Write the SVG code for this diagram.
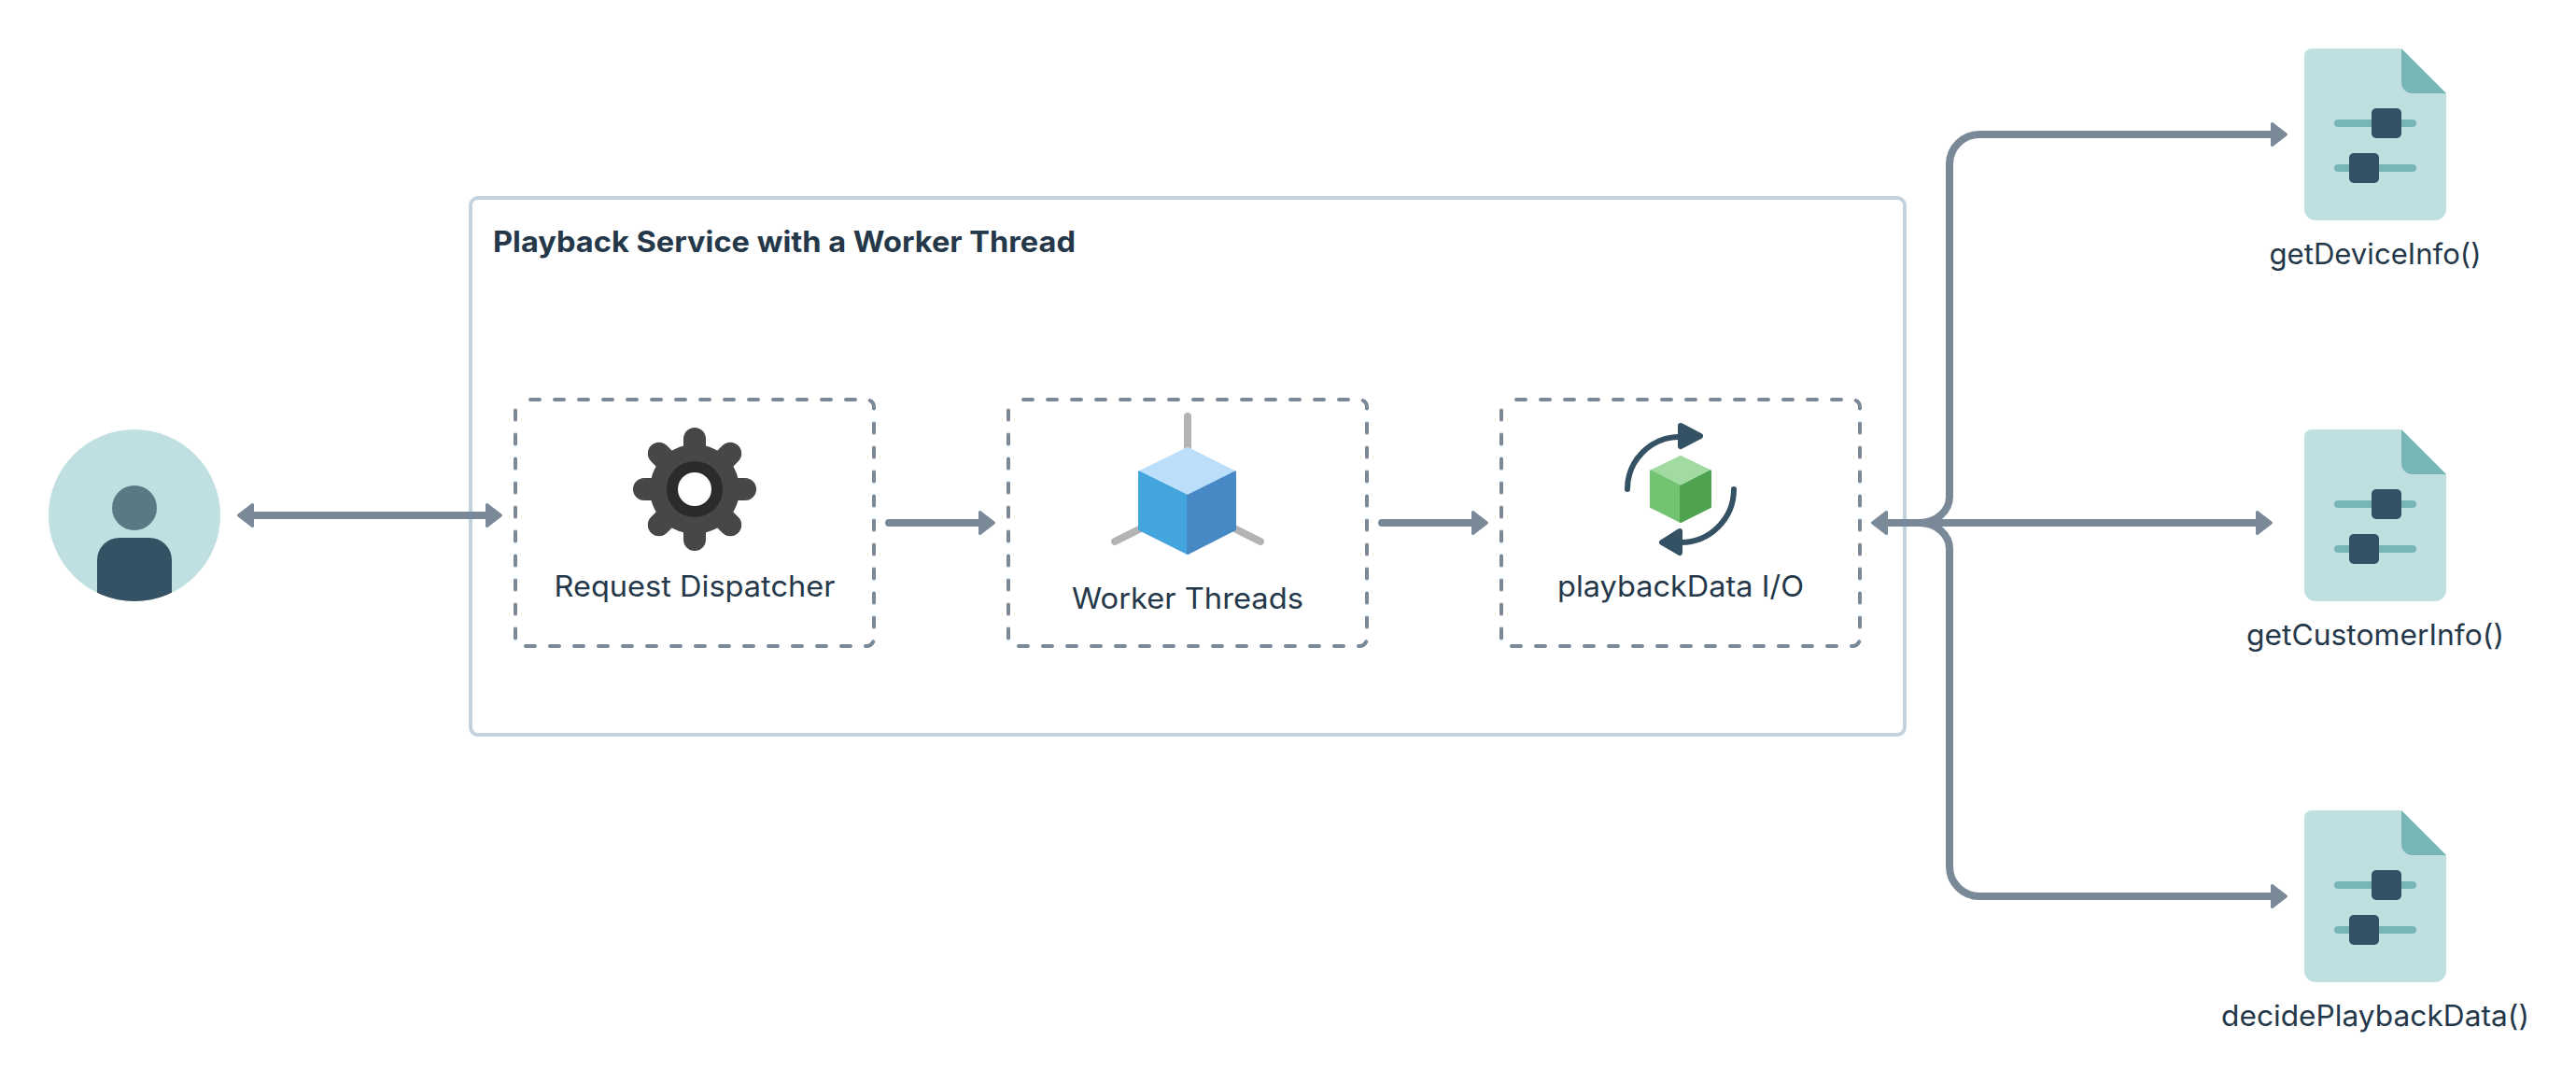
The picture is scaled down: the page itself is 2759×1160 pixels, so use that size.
<svg xmlns="http://www.w3.org/2000/svg" width="2759" height="1160" viewBox="0 0 2759 1160">
<style>
text{font-family:"Inter","Roboto","Liberation Sans",sans-serif;fill:#25384a;font-size:31px;text-anchor:middle}
.title{font-weight:700;text-anchor:start}
.dash{fill:none;stroke:#7a8998;stroke-width:4;stroke-linecap:round;stroke-dasharray:10 16}
.conn{fill:none;stroke:#7a8998;stroke-width:8;stroke-linecap:round}
.butt{stroke-linecap:butt}
.page{fill:#bfdfe1}.fold{fill:#77b5b6}.knob{fill:#345263}
</style>
<defs>
<marker id="head" markerUnits="userSpaceOnUse" orient="auto-start-reverse" markerWidth="24" markerHeight="32" viewBox="-2 -16 24 32" refX="8" refY="0" overflow="visible">
<path d="M1.5,-11.5 L16.5,0 L1.5,11.5 Z" fill="#7a8998" stroke="#7a8998" stroke-width="3" stroke-linejoin="round"/>
</marker>
<g id="doc">
<path class="page" d="M2476,52H2572L2620,100V224a12,12 0 0 1-12,12H2480a12,12 0 0 1-12-12V60a8,8 0 0 1 8-8Z"/>
<path class="fold" d="M2572,52L2620,100H2584a12,12 0 0 1-12-12Z"/>
<rect class="fold" x="2500" y="128" width="88" height="8" rx="4"/>
<rect class="fold" x="2500" y="176" width="88" height="8" rx="4"/>
<rect class="knob" x="2540" y="116" width="32" height="32" rx="5"/>
<rect class="knob" x="2516" y="164" width="32" height="32" rx="5"/>
</g>
<clipPath id="userClip"><circle cx="144" cy="552" r="92"/></clipPath>
</defs>
<rect width="2759" height="1160" fill="#fff"/>
<g id="service">
<rect x="504" y="212" width="1536" height="575" rx="8" fill="none" stroke="#c4d2de" stroke-width="4"/>
<text class="title" x="528" y="270" textLength="624" lengthAdjust="spacingAndGlyphs">Playback Service with a Worker Thread</text>
</g>
<g id="connectors">
<path class="conn butt" d="M264,552H528" marker-start="url(#head)" marker-end="url(#head)"/>
<path class="conn" d="M952,560H1056" marker-end="url(#head)"/>
<path class="conn" d="M1480,560H1584" marker-end="url(#head)"/>
<path class="conn butt" d="M2424,560H2014" marker-start="url(#head)" marker-end="url(#head)"/>
<path class="conn butt" d="M2056,560A32,28 0 0 0 2088,532V176A32,32 0 0 1 2120,144H2440" marker-end="url(#head)"/>
<path class="conn butt" d="M2056,560A32,28 0 0 1 2088,588V928A32,32 0 0 0 2120,960H2440" marker-end="url(#head)"/>
</g>
<g id="user">
<circle cx="144" cy="552" r="92" fill="#bfdfe1"/>
<circle cx="144" cy="544" r="24" fill="#5a7a83"/>
<path clip-path="url(#userClip)" d="M104,660V600a24,24 0 0 1 24-24h32a24,24 0 0 1 24,24V660Z" fill="#345263"/>
</g>
<g id="dispatcher">
<path class="dash" d="M568,428H928a8,8 0 0 1 8,8V684a8,8 0 0 1-8,8H560a8,8 0 0 1-8-8V436"/>
<g stroke="#474747" stroke-width="24" stroke-linecap="round">
<path d="M744,470V578M690,524H798M705.800,485.800L782.200,562.200M782.200,485.800L705.800,562.200"/>
</g>
<circle cx="744" cy="524" r="48" fill="#474747"/>
<circle cx="744" cy="524" r="30" fill="#2b2b2b"/>
<circle cx="744" cy="524" r="18" fill="#fff"/>
<text x="744" y="639" textLength="301" lengthAdjust="spacingAndGlyphs">Request Dispatcher</text>
</g>
<g id="workers">
<path class="dash" d="M1096,428H1456a8,8 0 0 1 8,8V684a8,8 0 0 1-8,8H1088a8,8 0 0 1-8-8V436"/>
<path d="M1272,446V480M1194,580L1222,566M1350,580L1322,566" stroke="#b3b3b3" stroke-width="8" stroke-linecap="round" fill="none"/>
<g stroke-linejoin="round" stroke-width="2">
<path d="M1272,480L1323,505.500L1272,531L1220,505.500Z" fill="#bbdefb" stroke="#bbdefb"/>
<path d="M1220,505.500L1272,531V593L1220,567Z" fill="#42a5dc" stroke="#42a5dc"/>
<path d="M1323,505.500L1272,531V593L1323,567Z" fill="#4689c4" stroke="#4689c4"/>
</g>
<text x="1272" y="652" textLength="248" lengthAdjust="spacingAndGlyphs">Worker Threads</text>
</g>
<g id="playback">
<path class="dash" d="M1624,428H1984a8,8 0 0 1 8,8V684a8,8 0 0 1-8,8H1616a8,8 0 0 1-8-8V436"/>
<g stroke-linejoin="round" stroke-width="2">
<path d="M1800,489L1832,504.500L1800,521L1768,504.500Z" fill="#a1dba1" stroke="#a1dba1"/>
<path d="M1768,504.500L1800,521V559L1768,543Z" fill="#73c373" stroke="#73c373"/>
<path d="M1832,504.500L1800,521V559L1832,543Z" fill="#4fa24f" stroke="#4fa24f"/>
</g>
<path d="M1743,524A56,56 0 0 1 1799,468M1857,524A57,57 0 0 1 1800,581" fill="none" stroke="#345263" stroke-width="6" stroke-linecap="round"/>
<path d="M1800,456L1821,467L1800,478ZM1799,569L1780,581L1799,592Z" fill="#345263" stroke="#345263" stroke-width="6" stroke-linejoin="round"/>
<text x="1800" y="639" textLength="264" lengthAdjust="spacingAndGlyphs">playbackData I/O</text>
</g>
<g id="device"><use href="#doc"/><text x="2544" y="283" textLength="227" lengthAdjust="spacingAndGlyphs">getDeviceInfo()</text></g>
<g id="customer"><use href="#doc" y="408"/><text x="2544" y="691" textLength="276" lengthAdjust="spacingAndGlyphs">getCustomerInfo()</text></g>
<g id="decide"><use href="#doc" y="816"/><text x="2544" y="1099" textLength="330" lengthAdjust="spacingAndGlyphs">decidePlaybackData()</text></g>
</svg>
